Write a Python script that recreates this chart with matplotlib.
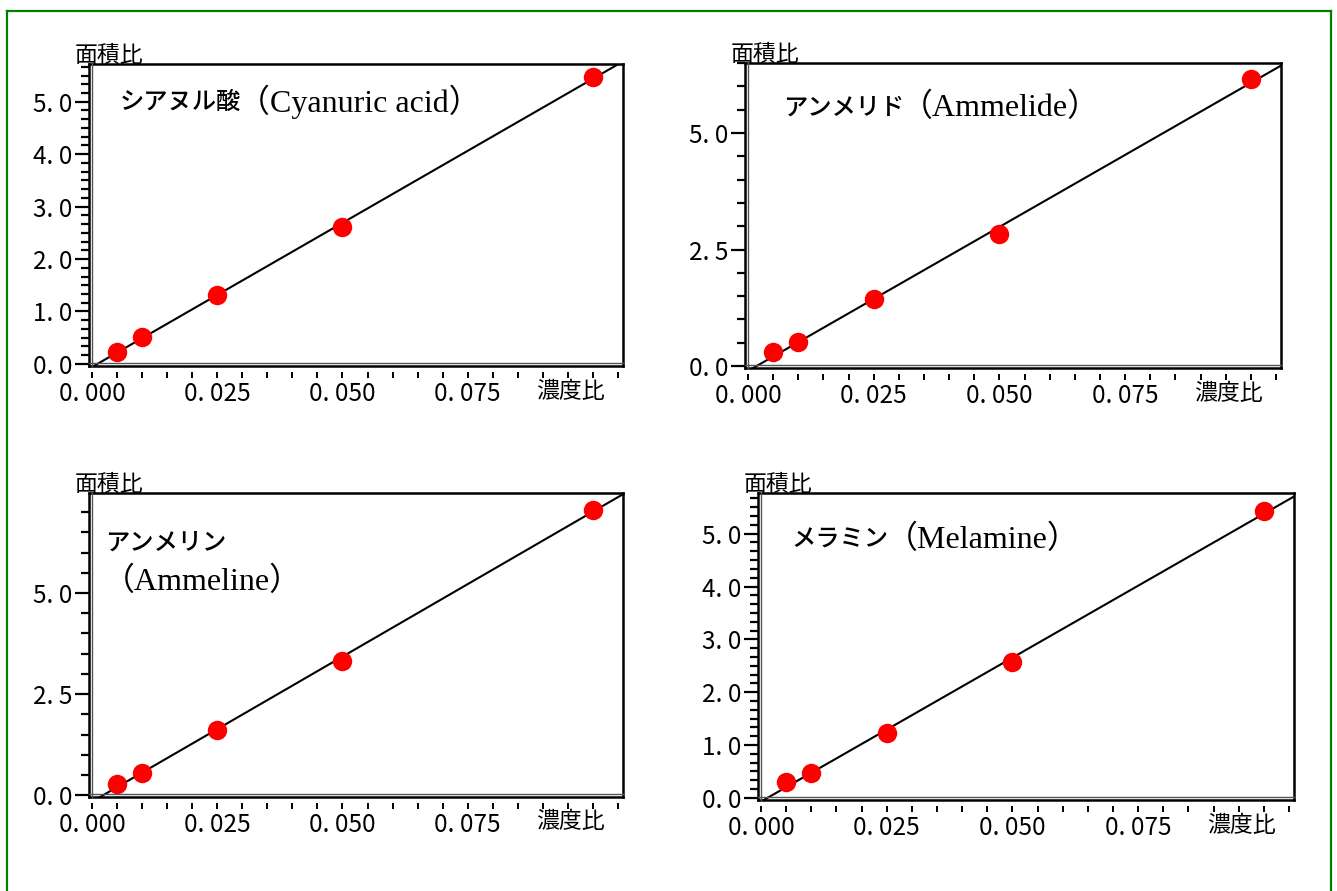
import matplotlib
matplotlib.use('Agg')
import matplotlib.pyplot as plt
import numpy as np
from matplotlib.ticker import MultipleLocator, FuncFormatter
from matplotlib.transforms import ScaledTranslation, blended_transform_factory
from matplotlib.lines import Line2D

plt.rcParams['font.family'] = ['Noto Sans CJK JP', 'DejaVu Sans']

# concentration ratio (x) and area ratio (y)
conc = [0.005, 0.01, 0.025, 0.05, 0.1]
cyanuric = [0.23, 0.51, 1.32, 2.62, 5.47]
ammelide = [0.30, 0.51, 1.43, 2.83, 6.15]
ammeline = [0.27, 0.56, 1.62, 3.33, 7.06]
melamine = [0.30, 0.47, 1.23, 2.57, 5.43]

names_jp = ['シアヌル酸', 'アンメリド', 'アンメリン', 'メラミン']
names_en = ['（Cyanuric acid）', '（Ammelide）', '（Ammeline）', '（Melamine）']
series = [cyanuric, ammelide, ammeline, melamine]
y_tops = [5.72, 6.50, 7.47, 5.77]
y_major = [1.0, 2.5, 2.5, 1.0]
y_minor = [1 / 6, 0.5, 0.5, 1 / 6]

x_label = '濃度比'
y_label = '面積比'

W, H = 1337, 891
fig = plt.figure(figsize=(W / 100, H / 100), dpi=100)

# panel boxes in pixels: left, top, right, bottom
boxes = [(89, 64, 623, 366), (745, 63, 1281, 368),
         (89, 493, 623, 797), (758, 493, 1294, 800)]
title_pos = [(0.058, 0.874), (0.071, 0.852), (0.030, 0.836), (0.063, 0.847)]

tick_font = 17.5


def fmt_y(v, pos):
    return ('%.1f' % v).replace('.', '. ')


def fmt_x(v, pos):
    if v > 0.09:
        return ''
    return ('%.3f' % abs(v)).replace('.', '. ')


for i in range(4):
    l, t, r, b = boxes[i]
    ax = fig.add_axes([l / W, 1 - b / H, (r - l) / W, (b - t) / H])
    x = np.array(conc)
    y = np.array(series[i])

    ax.set_xlim(-0.0006, 0.106)
    ax.set_ylim(-0.04, y_tops[i])

    # least squares calibration line
    k, c = np.polyfit(x, y, 1)
    xl = np.array([-0.0006, 0.106])
    ax.plot(xl, k * xl + c, color='black', lw=1.5, zorder=2)
    ax.plot(x, y, 'o', color='#ff0000', markersize=14, markeredgewidth=0, zorder=3)

    # frame
    for s in ['top', 'right', 'left']:
        ax.spines[s].set_linewidth(1.8)
        ax.spines[s].set_color('black')
    ax.spines['bottom'].set_position(('outward', 4))
    ax.spines['bottom'].set_visible(False)
    ax.plot([0, 1], [0, 0], transform=ax.transAxes, color='black', lw=1.8, clip_on=False, zorder=4)
    off_x = ScaledTranslation(3 / 100, 0, fig.dpi_scale_trans)
    off_y = ScaledTranslation(0, 3 / 100, fig.dpi_scale_trans)
    ax.plot([0, 0], [0, 1], transform=ax.transAxes + off_x, color='#555555', lw=1.0, clip_on=False, zorder=4)
    ax.plot([0, 1], [0, 0], transform=ax.transAxes + off_y, color='#555555', lw=1.0, clip_on=False, zorder=4)

    ax.xaxis.set_major_locator(MultipleLocator(0.025))
    ax.xaxis.set_minor_locator(MultipleLocator(0.005))
    ax.xaxis.set_major_formatter(FuncFormatter(fmt_x))
    ax.yaxis.set_major_locator(MultipleLocator(y_major[i]))
    ax.yaxis.set_minor_locator(MultipleLocator(y_minor[i]))
    ax.yaxis.set_major_formatter(FuncFormatter(fmt_y))

    ax.tick_params(axis='x', which='both', direction='out', length=4.5, width=1.4, pad=2,
                   labelsize=tick_font)
    ax.tick_params(axis='y', which='major', direction='out', length=10, width=1.6, pad=2,
                   labelsize=tick_font)
    ax.tick_params(axis='y', which='minor', direction='out', length=5.5, width=1.6)

    # axis captions
    ax.text(-0.027, 0.99, y_label, transform=ax.transAxes, fontsize=16.5,
            ha='left', va='bottom')
    tr = blended_transform_factory(ax.transData, ax.transAxes)
    ax.annotate(x_label, xy=(0.0955, 0), xycoords=tr, xytext=(0, -18),
                textcoords='offset points', fontsize=16.5, ha='center', va='center')

    # compound name
    tx, ty = title_pos[i]
    jp = ax.text(tx, ty, names_jp[i], transform=ax.transAxes, fontsize=17.5,
                 fontweight='medium', ha='left', va='center')
    if i == 2:
        ax.text(tx - 0.005, 0.707, names_en[i], transform=ax.transAxes, fontsize=23,
                family=['Liberation Serif', 'Noto Sans CJK JP'], ha='left', va='center')
    else:
        ax.annotate(names_en[i], xy=(0.97, 0.5), xycoords=jp, fontsize=23,
                    family=['Liberation Serif', 'Noto Sans CJK JP'], ha='left', va='center')

# green outer border
gc = '#008000'
fig.add_artist(Line2D([7 / W, 7 / W], [0, 1 - 11 / H], color=gc, lw=1.6))
fig.add_artist(Line2D([7 / W, 1331 / W], [1 - 11 / H, 1 - 11 / H], color=gc, lw=1.6))
fig.add_artist(Line2D([1331 / W, 1331 / W], [0, 1 - 11 / H], color=gc, lw=1.6))

fig.savefig('out.png', dpi=100)
